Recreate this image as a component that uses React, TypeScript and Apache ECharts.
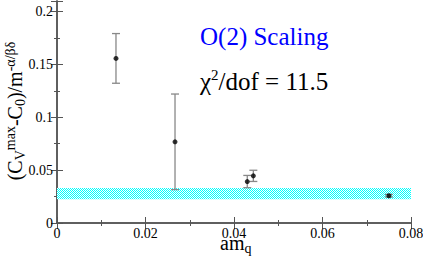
import React, { useEffect, useRef } from "react";
import * as echarts from "echarts";

const amq = [0.01333, 0.02667, 0.043, 0.04437, 0.075];
const cv = [0.1557, 0.0768, 0.0392, 0.0446, 0.0258];
const cvErr = [0.0235, 0.0452, 0.0058, 0.0053, 0.0012];
const bandRange = [0.0225, 0.033];
const xTicks = [0, 0.02, 0.04, 0.06, 0.08];
const yTicks = [0, 0.05, 0.1, 0.15, 0.2];
const fitLabel = "O(2) Scaling";
const chiValue = "11.5";

const FONT = "Liberation Serif";
const AXIS = "#555555";

function makePattern(): any {
  const c = document.createElement("canvas");
  c.width = 2;
  c.height = 2;
  const ctx = c.getContext("2d")!;
  ctx.fillStyle = "#ffffff";
  ctx.fillRect(0, 0, 2, 2);
  ctx.fillStyle = "#00ffff";
  ctx.fillRect(0, 0, 1, 1);
  ctx.fillRect(1, 1, 1, 1);
  return { image: c, repeat: "repeat" };
}

const fmt = (v: number) => "{a|" + String(Math.round(v * 1000) / 1000) + "}";
const labelRich = { a: { fontFamily: FONT, fontSize: 14, color: "#000" } };

export default function App() {
  const ref = useRef<HTMLDivElement>(null);
  useEffect(() => {
    const chart = echarts.init(ref.current!, undefined, { renderer: "svg" });
    const pts = amq.map((x, i) => [x, cv[i]]);
    const errs = amq.map((x, i) => [x, cv[i] - cvErr[i], cv[i] + cvErr[i]]);
    const axisCommon = {
      axisLine: { show: true, lineStyle: { color: AXIS, width: 1.5 } },
      axisTick: { show: true, inside: true, length: 6, lineStyle: { color: AXIS } },
      minorTick: { show: true, splitNumber: 2, length: 3, lineStyle: { color: AXIS } },
      splitLine: { show: false },
    };
    const richMain = {
      m: { fontFamily: FONT, fontSize: 20, lineHeight: 24, verticalAlign: "middle", fill: "#000" },
      t: { fontFamily: FONT, fontSize: 14, lineHeight: 8, verticalAlign: "top", fill: "#000" },
      b: { fontFamily: FONT, fontSize: 14, lineHeight: 8, verticalAlign: "bottom", fill: "#000" },
    };
    chart.setOption({
      animation: false,
      grid: { left: 57, right: 12, top: 1, bottom: 35, outerBoundsMode: "none", containLabel: false },
      graphic: [
        {
          type: "text",
          left: 200,
          top: 24,
          z: 10,
          style: {
            text: "{o|" + fitLabel + "}",
            fontFamily: FONT,
            fill: "#0000ff",
            rich: { o: { fontFamily: FONT, fontSize: 25, lineHeight: 30, verticalAlign: "middle", fill: "#0000ff" } },
          },
        },
        {
          type: "text",
          left: 200,
          top: 67,
          z: 10,
          style: {
            text: "{m|χ}{t|2}{m|/dof = " + chiValue + "}",
            fill: "#000",
            fontFamily: FONT,
            rich: {
              m: { fontFamily: FONT, fontSize: 25, lineHeight: 28, verticalAlign: "middle", fill: "#000" },
              t: { fontFamily: FONT, fontSize: 15, lineHeight: 6, verticalAlign: "top", fill: "#000" },
            },
          },
        },
        {
          type: "text",
          x: 15,
          y: 111,
          rotation: Math.PI / 2,
          z: 10,
          style: {
            text: "{m|(C}{b|V}{t|max}{m|-C}{b|0}{m|)/m}{t|-α/βδ}",
            align: "center",
            verticalAlign: "middle",
            fontFamily: FONT,
            fill: "#000",
            rich: richMain,
          },
        },
        {
          type: "text",
          x: 220,
          y: 243,
          z: 10,
          style: {
            text: "{m|am}{b|q}",
            align: "left",
            verticalAlign: "middle",
            fontFamily: FONT,
            fill: "#000",
            rich: richMain,
          },
        },
      ],
      xAxis: [
        {
          type: "value",
          min: xTicks[0],
          max: xTicks[xTicks.length - 1],
          interval: 0.02,
          ...axisCommon,
          axisLabel: { formatter: fmt, rich: labelRich, margin: 3 },
        },
        {
          type: "value",
          position: "top",
          min: 0,
          max: 0.08,
          interval: 0.02,
          ...axisCommon,
          axisLabel: { show: false },
        },
      ],
      yAxis: [
        {
          type: "value",
          min: yTicks[0],
          max: 0.21,
          interval: 0.05,
          ...axisCommon,
          axisLabel: { formatter: fmt, rich: labelRich, margin: 4, showMaxLabel: false },
        },
        {
          type: "value",
          position: "right",
          min: 0,
          max: 0.21,
          interval: 0.05,
          ...axisCommon,
          axisLabel: { show: false },
        },
      ],
      series: [
        {
          type: "custom",
          xAxisIndex: 0,
          yAxisIndex: 0,
          data: errs,
          z: 3,
          renderItem: (params: any, api: any) => {
            const x = api.value(0);
            const lo = api.coord([x, api.value(1)]);
            const hi = api.coord([x, api.value(2)]);
            const w = 4;
            const style = { stroke: "#888888", lineWidth: 1.3 };
            return {
              type: "group",
              children: [
                { type: "line", shape: { x1: lo[0], y1: lo[1], x2: hi[0], y2: hi[1] }, style },
                { type: "line", shape: { x1: lo[0] - w, y1: lo[1], x2: lo[0] + w, y2: lo[1] }, style },
                { type: "line", shape: { x1: hi[0] - w, y1: hi[1], x2: hi[0] + w, y2: hi[1] }, style },
              ],
            };
          },
        },
        {
          type: "scatter",
          data: pts,
          symbolSize: 5,
          z: 4,
          itemStyle: { color: "#000" },
          markArea: {
            silent: true,
            itemStyle: { color: makePattern() },
            data: [[{ yAxis: bandRange[0] }, { yAxis: bandRange[1] }]],
          },
        },
      ],
    });
    return () => chart.dispose();
  }, []);
  return <div ref={ref} style={{ width: 423, height: 258, position: "absolute", left: 0, top: 0 }} />;
}
